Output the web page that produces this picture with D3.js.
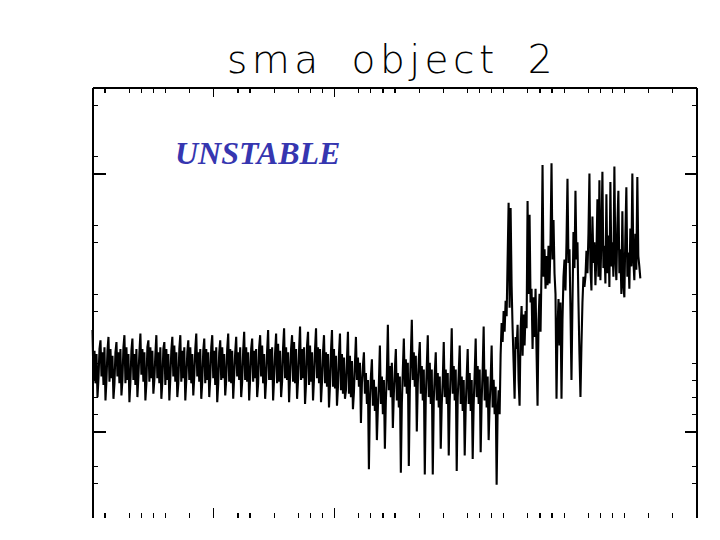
<!DOCTYPE html>
<html>
<head>
<meta charset="utf-8">
<script src="https://cdn.jsdelivr.net/npm/d3@7"></script>
<style>
  html, body { margin: 0; padding: 0; background: #fff; }
  svg { display: block; }
</style>
</head>
<body>
<script>
// ---------------- data ----------------
const titleText = "sma object 2";
const stateLabel = "UNSTABLE";

// time axis (arbitrary units), samples evenly spaced between tStart and tEnd
const tStart = 0;
const tEnd = 45.35;

// sma series
const smaStable = [
  10.9, 8.0, 9.7, 7.8, 9.5, 7.0, 8.1, 9.8,   10.3, 8.2, 9.6, 7.7, 9.9, 6.8, 8.0, 9.7,
  10.5, 7.9, 9.8, 8.1, 9.4, 6.9, 7.8, 9.6,   10.2, 8.2, 9.6, 7.8, 9.8, 7.1, 8.0, 9.9,
  10.6, 7.8, 9.9, 8.0, 9.5, 6.7, 7.9, 9.7,   10.4, 8.0, 9.5, 7.7, 9.8, 7.0, 8.2, 9.6,
  10.7, 8.3, 9.8, 7.9, 9.6, 6.8, 7.8, 9.9,   10.3, 7.9, 9.9, 8.1, 9.7, 7.2, 8.0, 9.5,
  10.6, 8.1, 9.6, 7.8, 9.9, 6.9, 7.9, 9.8,   10.2, 7.7, 9.8, 8.0, 9.5, 6.8, 8.1, 9.7,
  10.5, 8.2, 10.0, 7.9, 9.6, 7.0, 7.8, 9.8,  10.6, 7.9, 9.7, 8.1, 9.9, 6.8, 8.0, 9.6,
  10.3, 8.0, 9.9, 7.8, 9.5, 7.1, 8.2, 9.8,   10.7, 8.2, 9.6, 7.9, 9.8, 6.9, 7.9, 9.7,
  10.4, 7.8, 9.8, 8.0, 9.6, 7.0, 8.1, 9.9,   10.6, 8.1, 9.7, 7.7, 9.9, 6.7, 7.8, 9.6,
  10.3, 8.0, 9.9, 8.1, 9.5, 7.1, 8.0, 9.8,   10.7, 7.9, 9.8, 7.8, 9.7, 6.9, 8.2, 9.6,
  10.5, 8.2, 9.6, 8.0, 9.9, 7.0, 7.9, 9.7,   10.8, 8.0, 9.9, 7.9, 9.6, 6.8, 8.1, 9.8,
  10.4, 7.9, 9.7, 8.1, 9.8, 7.0, 7.8, 9.9,   10.6, 8.2, 10.0, 7.8, 9.5, 6.9, 8.0, 9.7,
  10.9, 8.0, 9.8, 8.0, 9.9, 6.8, 8.1, 9.6,   10.7, 7.8, 10.1, 7.9, 9.7, 7.0, 7.9, 9.9,
  11.0, 8.1, 9.9, 8.0, 9.6, 6.7, 8.2, 9.8,   10.6, 7.9, 10.2, 7.8, 9.8, 6.9, 8.0, 9.7,
  11.1, 8.0, 9.8, 8.1, 9.9, 6.6, 7.8, 10.0,  10.8, 7.7, 10.0, 7.9, 9.6, 6.8, 8.1, 9.8,
  11.0, 8.1, 9.9, 7.8, 9.8, 6.7, 7.9, 9.6,   10.6, 7.8, 9.6, 7.6, 9.5, 6.4, 7.7, 9.7,
  10.9, 7.6, 9.8, 7.5, 9.4, 6.5, 7.6, 9.5,   10.7, 7.4, 9.5, 7.2, 9.3, 6.9, 7.4, 9.2,
  10.8, 7.2, 9.4, 7.0, 9.1, 6.3, 7.3, 9.0
];
const smaDip = [
  10.5, 8.0, 9.3, 7.6, 9.0, 5.5, 7.8, 8.8,   9.6, 7.2, 8.4, 6.6, 8.0, 2.8, 6.8, 8.2,
  9.2, 6.5, 8.0, 6.2, 7.6, 4.5, 6.4, 7.8,    10.0, 6.6, 8.2, 6.0, 8.0, 4.0, 6.8, 8.4,
  11.2, 7.4, 8.8, 7.0, 9.0, 5.2, 7.2, 8.6,   9.8, 6.8, 8.4, 6.4, 8.2, 2.6, 6.6, 8.6,
  10.4, 7.6, 9.2, 7.2, 9.0, 3.0, 7.4, 9.4,   11.5, 8.0, 9.6, 7.6, 9.4, 5.0, 7.8, 9.2,
  10.2, 7.2, 8.8, 6.8, 8.6, 2.5, 7.0, 8.8,   10.6, 7.0, 9.0, 6.6, 8.6, 2.5, 6.8, 8.4,
  9.6, 6.8, 8.4, 6.4, 8.2, 4.0, 6.6, 8.0,    10.2, 7.0, 8.6, 6.6, 8.4, 3.6, 6.8, 8.6,
  11.0, 7.2, 8.8, 6.8, 8.6, 2.7, 7.0, 8.4,   10.0, 6.6, 8.2, 6.2, 8.0, 3.6, 6.4, 8.2,
  9.8, 6.6, 8.4, 6.2, 8.0, 3.4, 6.6, 8.4,    10.4, 7.0, 8.8, 6.6, 8.6, 3.8, 6.8, 8.6,
  11.1, 6.8, 8.6, 6.4, 8.2, 4.5, 6.6, 8.0,   10.0, 6.4, 8.0, 6.0, 7.6, 1.9, 6.2, 7.4
];
const smaJump = [
  6.0, 9.5, 11.3, 10.2, 12.0, 10.8, 12.6, 11.7, 15.0, 18.3,
  12.2, 18.0, 13.5, 11.0, 9.0, 6.9, 10.5, 9.8, 11.2, 8.0,
  6.5, 10.9, 12.3, 9.4, 11.8, 10.0, 12.0, 11.0, 18.4, 13.0,
  17.6, 12.5, 13.3, 9.8, 12.8, 10.5, 13.3, 9.6, 6.5, 11.5,
  13.0, 10.8, 14.5, 20.5, 14.0, 15.6, 13.3, 15.2, 13.5, 15.8,
  13.6, 16.0, 20.6, 15.0, 17.3, 14.2, 13.0, 6.9, 11.0, 12.7,
  10.0, 12.5, 6.9, 11.5, 14.0, 15.0, 13.2, 16.0, 19.7, 14.8,
  15.6, 12.0, 8.0, 12.5, 16.6, 14.5, 19.0, 15.0, 16.0, 12.5,
  9.5, 7.0, 10.0, 12.5, 14.0, 13.4
];
const smaHigh = [
  14.0, 15.5, 14.2, 16.5, 20.0, 14.5, 13.2, 17.5, 14.8, 16.0,
  13.5, 15.2, 18.5, 14.0, 19.6, 13.8, 16.2, 20.1, 14.5, 15.8,
  13.6, 18.8, 14.2, 16.4, 13.4, 19.5, 14.6, 16.0, 14.0, 20.4,
  15.0, 13.8, 17.0, 19.0, 14.2, 15.6, 13.0, 17.8, 13.5, 12.8,
  16.4, 19.2, 14.0, 15.4, 13.3, 16.8, 14.6, 20.0, 15.0, 13.8,
  16.5, 14.4, 19.8, 15.2, 14.6, 13.9
];

// axis ticks
const xDomain = [0, 50];
const yDomain = [0, 25];
const xMajorTicks = [10, 20];
const xMinorTicks = [1, 3, 4, 5, 6, 8, 12, 13, 15, 17, 18, 19, 22, 23, 24, 25, 27, 29,
                     31, 32, 33, 34, 36, 37, 38, 39, 41, 42, 43, 44, 46, 48];
const yMajorTicks = [20, 5];
const yMinorTicks = [24, 21, 17, 16, 13, 12, 9, 8, 7, 6, 3, 2];

// ---------------- drawing ----------------
const W = 720, H = 540;
const plot = { left: 92.5, right: 696.5, top: 87.5, bottom: 517.5 };

const sma = smaStable.concat(smaDip, smaJump, smaHigh);
const n = sma.length;
const series = sma.map((v, i) => ({ t: tStart + i * (tEnd - tStart) / (n - 1), v }));

const svg = d3.select("body").append("svg")
  .attr("width", W).attr("height", H)
  .style("background", "#fff");

const x = d3.scaleLinear().domain(xDomain).range([plot.left, plot.right]);
const y = d3.scaleLinear().domain(yDomain).range([plot.bottom, plot.top]);

// title
svg.append("text")
  .attr("x", 392).attr("y", 73)
  .attr("text-anchor", "middle")
  .style("font-family", "'DejaVu Sans', 'Liberation Sans', sans-serif")
  .style("font-weight", 200)
  .style("font-size", "39px")
  .style("letter-spacing", "4.5px")
  .style("word-spacing", "12px")
  .style("fill", "#000")
  .text(titleText);

// data line
svg.append("path")
  .datum(series)
  .attr("fill", "none")
  .attr("stroke", "#000")
  .attr("stroke-width", 2.1)
  .attr("stroke-linejoin", "bevel")
  .attr("d", d3.line().x(d => x(d.t)).y(d => y(d.v)));

// axes
function styleAxis(g, keepDomain) {
  g.selectAll("text").remove();
  g.selectAll("line").attr("stroke", "#000").attr("stroke-width", 1.2);
  g.select(".domain").attr("stroke", "#000").attr("stroke-width", 1.3);
  if (!keepDomain) g.select(".domain").remove();
  g.attr("shape-rendering", "crispEdges");
}

// left (ticks inward)
svg.append("g").attr("transform", `translate(${plot.left},0)`)
  .call(d3.axisRight(y).tickValues(yMinorTicks).tickSize(5).tickSizeOuter(0).tickFormat(""))
  .call(g => styleAxis(g, true));
svg.append("g").attr("transform", `translate(${plot.left},0)`)
  .call(d3.axisRight(y).tickValues(yMajorTicks).tickSize(13).tickSizeOuter(0).tickFormat(""))
  .call(g => styleAxis(g, false));

// right
svg.append("g").attr("transform", `translate(${plot.right},0)`)
  .call(d3.axisLeft(y).tickValues(yMinorTicks).tickSize(5).tickSizeOuter(0).tickFormat(""))
  .call(g => styleAxis(g, true));
svg.append("g").attr("transform", `translate(${plot.right},0)`)
  .call(d3.axisLeft(y).tickValues(yMajorTicks).tickSize(12).tickSizeOuter(0).tickFormat(""))
  .call(g => styleAxis(g, false));

// top
svg.append("g").attr("transform", `translate(0,${plot.top})`)
  .call(d3.axisBottom(x).tickValues(xMinorTicks).tickSize(5).tickSizeOuter(0).tickFormat(""))
  .call(g => styleAxis(g, true));
svg.append("g").attr("transform", `translate(0,${plot.top})`)
  .call(d3.axisBottom(x).tickValues(xMajorTicks).tickSize(9).tickSizeOuter(0).tickFormat(""))
  .call(g => styleAxis(g, false));

// bottom (ticks only)
svg.append("g").attr("transform", `translate(0,${plot.bottom})`)
  .call(d3.axisTop(x).tickValues(xMinorTicks).tickSize(5).tickSizeOuter(0).tickFormat(""))
  .call(g => styleAxis(g, false));
svg.append("g").attr("transform", `translate(0,${plot.bottom})`)
  .call(d3.axisTop(x).tickValues(xMajorTicks).tickSize(10).tickSizeOuter(0).tickFormat(""))
  .call(g => styleAxis(g, false));

// state label
svg.append("text")
  .attr("x", 175).attr("y", 164)
  .style("font-family", "'Liberation Serif', 'Times New Roman', serif")
  .style("font-weight", "bold")
  .style("font-style", "italic")
  .style("font-size", "32px")
  .style("fill", "#3636b0")
  .text(stateLabel);
</script>
</body>
</html>
